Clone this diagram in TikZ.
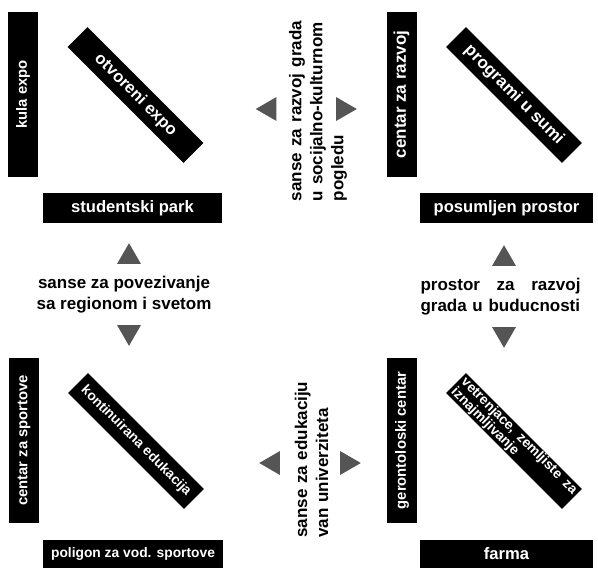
\documentclass[tikz,border=0pt]{standalone}
\usepackage{fontspec}
\setmainfont{Liberation Sans}
\usepackage{tikz}
\usetikzlibrary{shapes.geometric}
\hyphenpenalty=10000
\exhyphenpenalty=10000
\definecolor{trigray}{RGB}{85,85,85}
\newcommand{\barbig}{\fontsize{8.3}{9}\selectfont\bfseries}
\newcommand{\barsmall}{\fontsize{7.4}{8}\selectfont\bfseries}
\newcommand{\bartiny}{\fontsize{6.9}{7}\selectfont\bfseries}
\tikzset{bar/.style = {fill=black, text=white, inner sep=0pt, font=\barbig}}
\tikzset{vbar/.style = {bar, minimum width=82.5pt, minimum height=15pt, rotate=90}}
\tikzset{dbar/.style = {bar, minimum width=82pt, minimum height=14pt, rotate=-45}}
\tikzset{hbar/.style = {bar, minimum height=15pt}}
\tikzset{chance/.style = {font=\fontsize{8.5}{10.5}\selectfont\bfseries, inner sep=0pt}}
\tikzset{arrowtri/.style = {regular polygon, regular polygon sides=3, fill=trigray, inner sep=0pt, minimum size=13.8pt}}

\begin{document}
\begin{tikzpicture}[x=0.5pt,y=-0.5pt]
\useasboundingbox (0,0) rectangle (598,568);
\node[vbar, font=\barsmall](kula) at (23,94.5) {kula expo};
\node[dbar](otvoreni) at (135.5,95) {otvoreni expo};
\node[hbar, minimum width=89.5pt](park) at (132.5,208) {studentski park};
\node[vbar, font=\fontsize{8.5}{9}\selectfont\bfseries](razvoj) at (401.5,94.5) {centar za razvoj};
\node[dbar, font=\fontsize{8.5}{9}\selectfont\bfseries](sumi) at (514,95) {programi u sumi};
\node[hbar, minimum width=86.5pt](posumljen) at (506.5,208) {posumljen prostor};
\node[vbar, font=\barsmall](sport) at (24,440.5) {centar za sportove};
\node[dbar, font=\bartiny](edukacija) at (136,441) {kontinuirana edukacija};
\node[hbar, minimum width=90pt, minimum height=14pt, font=\bartiny](poligon) at (133,554) {poligon za vod. sportove};
\node[vbar, font=\barsmall](geron) at (402,440.5) {gerontoloski centar};
\node[dbar, font=\bartiny, align=left, text width=79pt](vetar) at (514,441) {vetrenjace,\hfill zemljiste\hfill za\\iznajmljivanje};
\node[hbar, minimum width=86.5pt, minimum height=14pt](farma) at (506.5,554) {farma};
\node[chance, rotate=90, align=left, text width=90pt](kultura) at (318,111) {sanse\hfill za\hfill razvoj\hfill grada\\u socijalno-kulturnom\\pogledu};
\node[arrowtri, regular polygon rotate=90](kultura-l) at (269.5,109) {};
\node[arrowtri, regular polygon rotate=-90](kultura-r) at (343,109) {};
\node[chance, align=center](region) at (124,295) {sanse za povezivanje\\sa regionom i svetom};
\node[arrowtri](region-u) at (129,257) {};
\node[arrowtri, regular polygon rotate=180](region-d) at (129,332) {};
\node[chance, align=left, text width=80pt](buducnost) at (500.5,297) {prostor\hfill za\hfill razvoj\\grada u buducnosti};
\node[arrowtri](buducnost-u) at (504,259) {};
\node[arrowtri, regular polygon rotate=180](buducnost-d) at (504,334) {};
\node[chance, rotate=90, align=left, text width=78pt](univerzitet) at (311.5,459.5) {sanse za edukaciju\\van univerziteta};
\node[arrowtri, regular polygon rotate=90](univerzitet-l) at (273,463) {};
\node[arrowtri, regular polygon rotate=-90](univerzitet-r) at (347,463) {};
\end{tikzpicture}
\end{document}
